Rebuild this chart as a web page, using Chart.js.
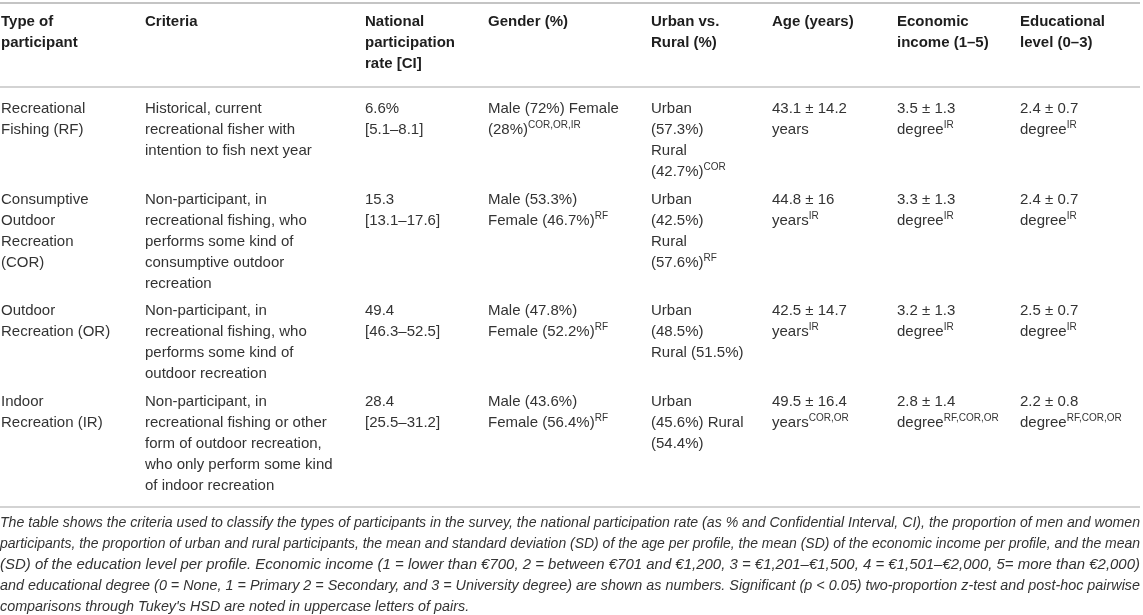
<!DOCTYPE html>
<html>
<head>
<meta charset="utf-8">
<script src="https://cdn.jsdelivr.net/npm/chart.js@4.4.1/dist/chart.umd.min.js"></script>
<style>
  html, body { margin: 0; padding: 0; background: #ffffff; }
  #wrap { width: 1143px; height: 615px; position: relative; overflow: hidden; }
  canvas { display: block; }
</style>
</head>
<body>
<div id="wrap"><canvas id="c" width="1143" height="615"></canvas></div>
<script>
// ---------------- DATA (text of the table) ----------------
const headers = [
  ["Type of", "participant"],
  ["Criteria"],
  ["National", "participation", "rate [CI]"],
  ["Gender (%)"],
  ["Urban vs.", "Rural (%)"],
  ["Age (years)"],
  ["Economic", "income (1–5)"],
  ["Educational", "level (0–3)"]
];

const participantTypes = [
  ["Recreational", "Fishing (RF)"],
  ["Consumptive", "Outdoor", "Recreation", "(COR)"],
  ["Outdoor", "Recreation (OR)"],
  ["Indoor", "Recreation (IR)"]
];

const criteria = [
  ["Historical, current", "recreational fisher with", "intention to fish next year"],
  ["Non-participant, in", "recreational fishing, who", "performs some kind of", "consumptive outdoor", "recreation"],
  ["Non-participant, in", "recreational fishing, who", "performs some kind of", "outdoor recreation"],
  ["Non-participant, in", "recreational fishing or other", "form of outdoor recreation,", "who only perform some kind", "of indoor recreation"]
];

const participationRate = [
  ["6.6%", "[5.1–8.1]"],
  ["15.3", "[13.1–17.6]"],
  ["49.4", "[46.3–52.5]"],
  ["28.4", "[25.5–31.2]"]
];

const gender = [
  ["Male (72%) Female", "(28%){COR,OR,IR}"],
  ["Male (53.3%)", "Female (46.7%){RF}"],
  ["Male (47.8%)", "Female (52.2%){RF}"],
  ["Male (43.6%)", "Female (56.4%){RF}"]
];

const urbanRural = [
  ["Urban", "(57.3%)", "Rural", "(42.7%){COR}"],
  ["Urban", "(42.5%)", "Rural", "(57.6%){RF}"],
  ["Urban", "(48.5%)", "Rural (51.5%)"],
  ["Urban", "(45.6%) Rural", "(54.4%)"]
];

const age = [
  ["43.1 ± 14.2", "years"],
  ["44.8 ± 16", "years{IR}"],
  ["42.5 ± 14.7", "years{IR}"],
  ["49.5 ± 16.4", "years{COR,OR}"]
];

const economicIncome = [
  ["3.5 ± 1.3", "degree{IR}"],
  ["3.3 ± 1.3", "degree{IR}"],
  ["3.2 ± 1.3", "degree{IR}"],
  ["2.8 ± 1.4", "degree{RF,COR,OR}"]
];

const educationalLevel = [
  ["2.4 ± 0.7", "degree{IR}"],
  ["2.4 ± 0.7", "degree{IR}"],
  ["2.5 ± 0.7", "degree{IR}"],
  ["2.2 ± 0.8", "degree{RF,COR,OR}"]
];

const captionLines = [
  "The table shows the criteria used to classify the types of participants in the survey, the national participation rate (as % and Confidential Interval, CI), the proportion of men and women",
  "participants, the proportion of urban and rural participants, the mean and standard deviation (SD) of the age per profile, the mean (SD) of the economic income per profile, and the mean",
  "(SD) of the education level per profile. Economic income (1 = lower than €700, 2 = between €701 and €1,200, 3 = €1,201–€1,500, 4 = €1,501–€2,000, 5= more than €2,000)",
  "and educational degree (0 = None, 1 = Primary 2 = Secondary, and 3 = University degree) are shown as numbers. Significant (p < 0.05) two-proportion z-test and post-hoc pairwise",
  "comparisons through Tukey's HSD are noted in uppercase letters of pairs."
];

// ---------------- LAYOUT (styles / positions) ----------------
const columnsData = [participantTypes, criteria, participationRate, gender, urbanRural, age, economicIncome, educationalLevel];
const layout = {
  colX: [1, 145, 365, 488, 651, 772, 897, 1020],
  tableRight: 1140,
  topRule: 3,
  headerFirstBaseline: 26,
  lineH: 21,
  headerRuleGap: 19,
  rowFirstGap: 26,
  rowGap: 27.5,
  bottomRuleGap: 17.5,
  captionFirstGap: 20,
  captionLineH: 21,
  font: "'Liberation Sans', Arial, sans-serif",
  bodySize: 15,
  supSize: 10,
  captionSize: 15,
  textColor: "#333333",
  headColor: "#1e1e1e",
  ruleColor: "#c4c4c4"
};

function drawRich(ctx, str, x, y, size, weight, color) {
  const parts = str.split(/(\{[^}]*\})/);
  let cx = x;
  for (const p of parts) {
    if (!p) continue;
    if (p[0] === '{') {
      const t = p.slice(1, -1);
      ctx.font = `${weight} ${layout.supSize}px ${layout.font}`;
      ctx.fillStyle = color;
      ctx.fillText(t, cx, y - 6);
      cx += ctx.measureText(t).width;
    } else {
      ctx.font = `${weight} ${size}px ${layout.font}`;
      ctx.fillStyle = color;
      ctx.fillText(p, cx, y);
      cx += ctx.measureText(p).width;
    }
  }
}

const tablePlugin = {
  id: 'tablePlugin',
  afterDraw(chart) {
    const ctx = chart.ctx;
    const xs = chart.scales.x, ys = chart.scales.y;
    const X = v => xs.getPixelForValue(v);
    const Y = v => ys.getPixelForValue(v);
    ctx.save();
    ctx.textBaseline = 'alphabetic';
    ctx.textAlign = 'left';

    const rule = (yv, w) => {
      ctx.strokeStyle = layout.ruleColor;
      ctx.lineWidth = w;
      ctx.beginPath();
      ctx.moveTo(X(0), Y(yv));
      ctx.lineTo(X(layout.tableRight), Y(yv));
      ctx.stroke();
    };

    rule(layout.topRule, 2);

    const headerLines = Math.max(...headers.map(h => h.length));
    headers.forEach((h, ci) => {
      h.forEach((line, li) => {
        drawRich(ctx, line, X(layout.colX[ci]), Y(layout.headerFirstBaseline + li * layout.lineH), layout.bodySize, 'bold', layout.headColor);
      });
    });
    const headerLast = layout.headerFirstBaseline + (headerLines - 1) * layout.lineH;
    const headerRule = headerLast + layout.headerRuleGap;
    rule(headerRule, 1.5);

    let base = headerRule + layout.rowFirstGap;
    const nRows = participantTypes.length;
    let lastBaseline = base;
    for (let r = 0; r < nRows; r++) {
      let maxLines = 0;
      columnsData.forEach((col, ci) => {
        const cell = col[r];
        maxLines = Math.max(maxLines, cell.length);
        cell.forEach((line, li) => {
          drawRich(ctx, line, X(layout.colX[ci]), Y(base + li * layout.lineH), layout.bodySize, 'normal', layout.textColor);
        });
      });
      lastBaseline = base + (maxLines - 1) * layout.lineH;
      base = lastBaseline + layout.rowGap;
    }
    const bottomRule = lastBaseline + layout.bottomRuleGap;
    rule(bottomRule, 1.5);

    ctx.font = `italic ${layout.captionSize}px ${layout.font}`;
    ctx.fillStyle = layout.textColor;
    const fullW = X(layout.tableRight) - X(0);
    let ratios = [];
    captionLines.forEach((line, i) => {
      const w = ctx.measureText(line).width;
      const isLast = i === captionLines.length - 1;
      let r;
      if (!isLast) { r = fullW / w; ratios.push(r); }
      else { r = ratios.reduce((a, b) => a + b, 0) / ratios.length; }
      ctx.save();
      ctx.translate(X(0), Y(bottomRule + layout.captionFirstGap + i * layout.captionLineH));
      ctx.scale(r, 1);
      ctx.fillText(line, 0, 0);
      ctx.restore();
    });
    ctx.restore();
  }
};

new Chart(document.getElementById('c'), {
  type: 'scatter',
  data: { datasets: [{ data: [], pointRadius: 0 }] },
  options: {
    responsive: false,
    animation: false,
    devicePixelRatio: 1,
    layout: { padding: 0 },
    plugins: { legend: { display: false }, tooltip: { enabled: false }, title: { display: false } },
    scales: {
      x: { type: 'linear', min: 0, max: 1143, display: false },
      y: { type: 'linear', min: 0, max: 615, reverse: true, display: false }
    }
  },
  plugins: [tablePlugin]
});
</script>
</body>
</html>
